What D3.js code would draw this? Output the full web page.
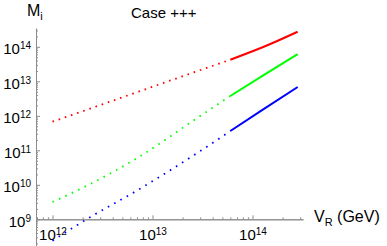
<!DOCTYPE html>
<html>
<head>
<meta charset="utf-8">
<script src="https://cdn.jsdelivr.net/npm/d3@7"></script>
<style>
  body { margin: 0; background: #fff; }
  svg { display: block; font-family: "Liberation Sans", Arial, sans-serif; }
  .axis path, .axis line { stroke: #8c8c8c; }
</style>
</head>
<body>
<div id="chart"></div>
<script>
// V_R values (GeV): dotted part and solid part
var vDotted = [1e12, 2.28e12, 6.95e12, 2.77e13, 6e13];
var vSolid = [6e13, 1.28e14, 2.83e14];

// M_i values (GeV) for the three curves
var redDotted = [6.75e11, 1.55e12, 4.80e12, 1.95e13, 4.23e13];
var redSolid = [4.23e13, 9.86e13, 2.74e14];
var greenDotted = [3.17e9, 9.86e9, 5.86e10, 8.47e11, 3.75e12];
var greenSolid = [3.75e12, 1.49e13, 6.18e13];
var blueDotted = [2.40e8, 1.07e9, 6.75e9, 8.18e10, 3.62e11];
var blueSolid = [3.62e11, 1.54e12, 6.84e12];

// tick labels (exponents)
var xMajor = [12, 13, 14];
var yMajor = [9, 10, 11, 12, 13, 14];

var width = 387, height = 246;

var svg = d3.select('#chart')
	.append('svg')
	.attr('width', width)
	.attr('height', height);

var x = d3.scaleLog()
	.domain([Math.pow(10, 11.835), Math.pow(10, 14.505)])
	.range([36, 303]);
var y = d3.scaleLog()
	.domain([Math.pow(10, 8.2), Math.pow(10, 14.54)])
	.range([246.9, 28.2]);

// minor ticks 2..9 x 10^n inside the domain
function minorTicks(scale, lo, hi) {
	var out = [];
	var d = scale.domain();
	for (var e = lo; e <= hi; ++e) {
		for (var m = 2; m <= 9; ++m) {
			var v = m * Math.pow(10, e);
			if (v >= d[0] && v <= d[1]) out.push(v);
		}
	}
	return out;
}

function powLabel(sel) {
	sel.each(function(d) {
		var t = d3.select(this);
		var exp = Math.round(Math.log10(d));
		t.text(null);
		t.append('tspan').text('10');
		t.append('tspan')
			.attr('dy', -5)
			.style('font-size', '10px')
			.text(exp);
	});
}

var y0 = y(1e9);
var x0 = 36;

// x axis (crosses at 10^9)
svg.append('g')
	.attr('class', 'axis')
	.attr('transform', 'translate(0,' + y0 + ')')
	.call(d3.axisBottom(x).tickValues(minorTicks(x, 11, 14))
		.tickSize(-2).tickSizeOuter(0).tickFormat(''));
var gx = svg.append('g')
	.attr('class', 'axis')
	.attr('transform', 'translate(0,' + y0 + ')')
	.call(d3.axisBottom(x).tickValues(xMajor.map(function(e) { return Math.pow(10, e); }))
		.tickSize(-4).tickSizeOuter(0).tickPadding(10));
gx.selectAll('text')
	.style('font-size', '15px')
	.style('fill', '#000')
	.call(powLabel);

// y axis
svg.append('g')
	.attr('class', 'axis')
	.attr('transform', 'translate(' + x0 + ',0)')
	.call(d3.axisLeft(y).tickValues(minorTicks(y, 8, 14))
		.tickSize(-2).tickSizeOuter(0).tickFormat(''));
var gy = svg.append('g')
	.attr('class', 'axis')
	.attr('transform', 'translate(' + x0 + ',0)')
	.call(d3.axisLeft(y).tickValues(yMajor.map(function(e) { return Math.pow(10, e); }))
		.tickSize(-4).tickSizeOuter(0).tickPadding(5));
gy.selectAll('text')
	.style('font-size', '15px')
	.style('fill', '#000')
	.attr('dy', '0.45em')
	.call(powLabel);
svg.selectAll('.axis').attr('font-family', null);

var line = d3.line()
	.x(function(d) { return x(d[0]); })
	.y(function(d) { return y(d[1]); })
	.curve(d3.curveMonotoneX);

var series = [
	{color: '#ff0000', dotted: redDotted, solid: redSolid, gap: 4.9},
	{color: '#00ff00', dotted: greenDotted, solid: greenSolid, gap: 5.5},
	{color: '#0000ff', dotted: blueDotted, solid: blueSolid, gap: 5.6}
];

series.forEach(function(s) {
	svg.append('path')
		.datum(d3.zip(vDotted, s.dotted))
		.attr('d', line)
		.attr('fill', 'none')
		.attr('stroke', s.color)
		.attr('stroke-width', 1.8)
		.attr('stroke-dasharray', '1.6,' + s.gap);
	svg.append('path')
		.datum(d3.zip(vSolid, s.solid))
		.attr('d', line)
		.attr('fill', 'none')
		.attr('stroke', s.color)
		.attr('stroke-width', 2);
});

// labels
var mi = svg.append('text')
	.attr('x', 27)
	.attr('y', 15.5)
	.style('font-size', '16px');
mi.append('tspan').text('M');
mi.append('tspan').attr('dy', 4).style('font-size', '11px').text('i');

svg.append('text')
	.attr('x', 131)
	.attr('y', 18)
	.style('font-size', '15px')
	.text('Case +++');

var vr = svg.append('text')
	.attr('x', 314)
	.attr('y', 221.5)
	.style('font-size', '16px');
vr.append('tspan').text('V');
vr.append('tspan').attr('dy', 4).style('font-size', '11px').text('R');
vr.append('tspan').attr('dy', -4).text(' (GeV)');
</script>
</body>
</html>
